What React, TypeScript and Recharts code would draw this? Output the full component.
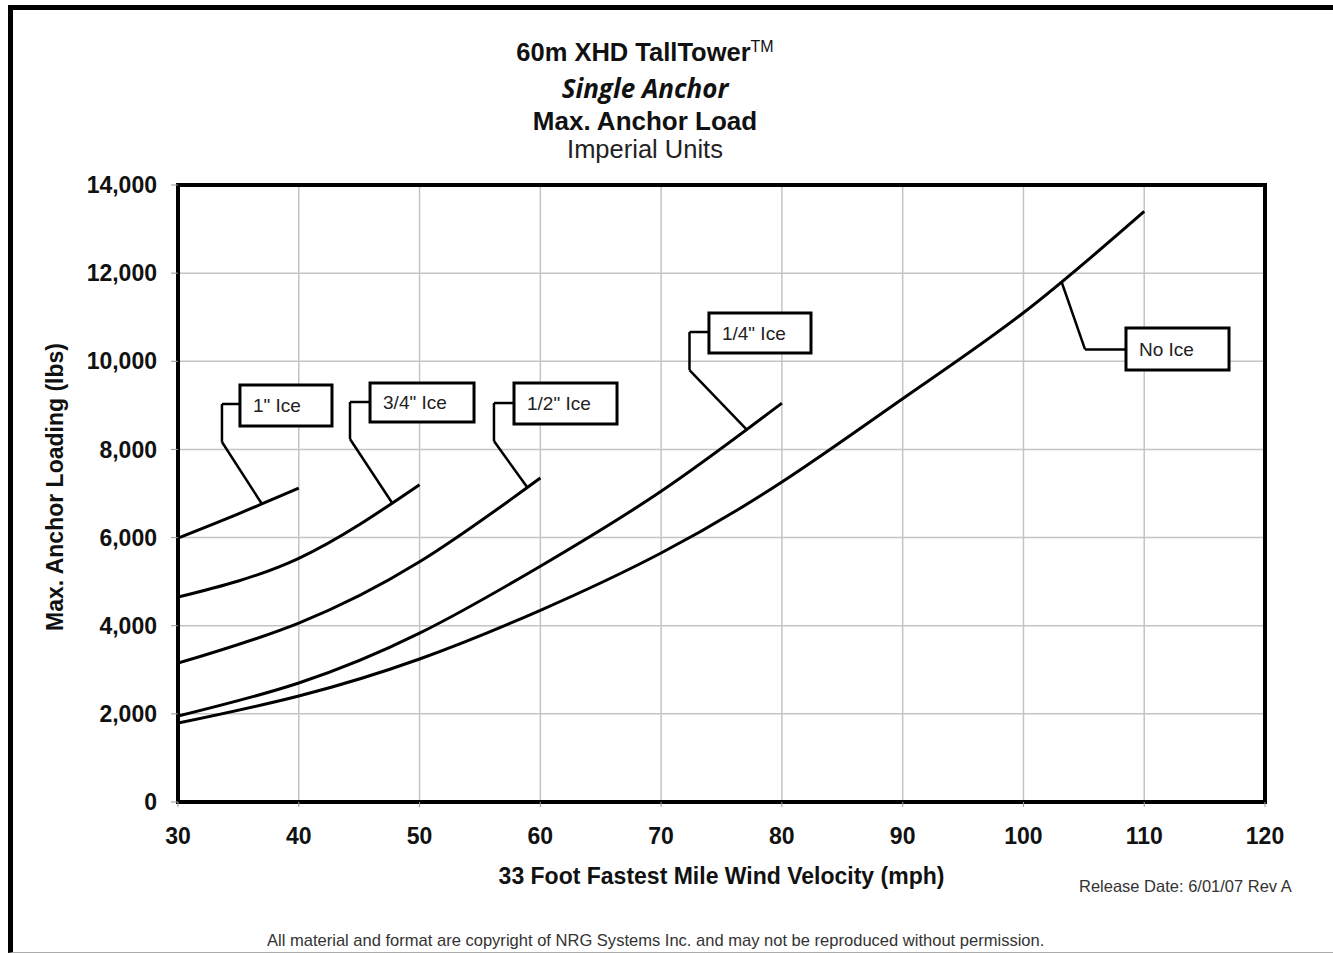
import React from "react";
import {
  LineChart,
  Line,
  XAxis,
  YAxis,
  CartesianGrid,
  ReferenceArea,
  ReferenceLine,
} from "recharts";

const noIceSpeeds = [30, 40, 50, 60, 70, 80, 90, 100, 110];
const quarterIceSpeeds = [30, 40, 50, 60, 70, 80];
const halfIceSpeeds = [30, 40, 50, 60];
const threeQuarterIceSpeeds = [30, 40, 50];
const oneInchIceSpeeds = [30, 35, 40];

// max anchor load (lbs)
const noIceLoads = [1790, 2405, 3245, 4350, 5650, 7260, 9150, 11100, 13400];
const quarterIceLoads = [1950, 2700, 3830, 5350, 7050, 9050];
const halfIceLoads = [3150, 4060, 5450, 7350];
const threeQuarterIceLoads = [4650, 5530, 7200];
const oneInchIceLoads = [5990, 6540, 7120];

const xTicks = [30, 40, 50, 60, 70, 80, 90, 100, 110, 120];
const yTicks = [0, 2000, 4000, 6000, 8000, 10000, 12000, 14000];

// callouts, in chart units (mph, lbs)
const calloutLabels = ['1" Ice', '3/4" Ice', '1/2" Ice', '1/4" Ice', "No Ice"];
const calloutBoxes = [
  [35.13, 42.75, 8531, 9462],
  [45.9, 54.51, 8622, 9507],
  [57.82, 66.35, 8577, 9507],
  [73.96, 82.41, 10188, 11095],
  [108.49, 117.02, 9802, 10755],
];
const calloutLeaders = [
  [[35.13, 9031], [33.64, 9031], [33.64, 8168], [36.95, 6762]],
  [[45.9, 9076], [44.24, 9076], [44.24, 8236], [47.72, 6790]],
  [[57.82, 9053], [56.16, 9053], [56.16, 8191], [58.9, 7147]],
  [[73.96, 10664], [72.35, 10664], [72.35, 9802], [77.07, 8457]],
  [[108.49, 10270], [105.1, 10270], [103.19, 11776]],
];

const toRows = (speeds: number[], loads: number[]) =>
  loads.map((load, i) => ({ speed: speeds[i], load }));

const series = [
  { name: "noIce", rows: toRows(noIceSpeeds, noIceLoads) },
  { name: "quarterIce", rows: toRows(quarterIceSpeeds, quarterIceLoads) },
  { name: "halfIce", rows: toRows(halfIceSpeeds, halfIceLoads) },
  { name: "threeQuarterIce", rows: toRows(threeQuarterIceSpeeds, threeQuarterIceLoads) },
  { name: "oneInchIce", rows: toRows(oneInchIceSpeeds, oneInchIceLoads) },
];

const sans = '"Liberation Sans", Arial, sans-serif';
const tickStyle = { fontSize: 23, fontWeight: 700, fill: "#111", fontFamily: sans };

const abs = (extra: React.CSSProperties): React.CSSProperties => ({
  position: "absolute",
  whiteSpace: "nowrap",
  lineHeight: 1,
  color: "#111",
  ...extra,
});

export default function App() {
  return (
    <div
      style={{
        position: "absolute",
        left: 0,
        top: 0,
        width: 1333,
        height: 953,
        overflow: "hidden",
        background: "#fff",
        fontFamily: sans,
      }}
    >
      <div
        style={{
          position: "absolute",
          left: 8,
          top: 5,
          width: 1325,
          height: 948,
          boxSizing: "border-box",
          borderLeft: "5px solid #000",
          borderTop: "5px solid #000",
          borderBottom: "1px solid #aaa",
        }}
      />

      <LineChart
        width={1333}
        height={953}
        margin={{ top: 185, right: 68, bottom: 91, left: 78 }}
        style={{ position: "absolute", left: 0, top: 0 }}
      >
        <CartesianGrid stroke="#c4c4c4" strokeWidth={1.5} />
        <XAxis
          dataKey="speed"
          type="number"
          domain={[30, 120]}
          ticks={xTicks}
          height={60}
          axisLine={false}
          tickSize={5}
          tickMargin={21}
          tickLine={{ stroke: "#999" }}
          tick={tickStyle}
          allowDataOverflow
        />
        <YAxis
          type="number"
          domain={[0, 14000]}
          ticks={yTicks}
          width={100}
          axisLine={false}
          tickSize={7}
          tickMargin={14}
          tickLine={{ stroke: "#999" }}
          tick={tickStyle}
          tickFormatter={(v: number) => v.toLocaleString("en-US")}
          allowDataOverflow
        />
        <ReferenceArea
          x1={30}
          x2={120}
          y1={0}
          y2={14000}
          fill="none"
          stroke="#000"
          strokeWidth={4}
        />
        {series.map((s) => (
          <Line
            key={s.name}
            data={s.rows}
            dataKey="load"
            type="natural"
            stroke="#000"
            strokeWidth={3}
            dot={false}
            activeDot={false}
            isAnimationActive={false}
          />
        ))}
        {calloutLeaders.map((pts, i) =>
          pts.slice(1).map((p, j) => (
            <ReferenceLine
              key={`lead-${i}-${j}`}
              segment={[
                { x: pts[j][0], y: pts[j][1] },
                { x: p[0], y: p[1] },
              ]}
              stroke="#000"
              strokeWidth={2.5}
            />
          ))
        )}
        {calloutBoxes.map(([x1, x2, y1, y2], i) => (
          <ReferenceArea
            key={`box-${i}`}
            x1={x1}
            x2={x2}
            y1={y1}
            y2={y2}
            fill="#fff"
            fillOpacity={1}
            stroke="#000"
            strokeWidth={3}
            label={{
              value: calloutLabels[i],
              position: "insideLeft",
              offset: 13,
              fontSize: 19,
              fill: "#222",
              fontFamily: sans,
            }}
          />
        ))}
      </LineChart>

      <div style={abs({ left: 0, width: 1290, top: 39, textAlign: "center", fontSize: 25.5, fontWeight: 700 })}>
        60m XHD TallTower<sup style={{ fontSize: 16, fontWeight: 400, verticalAlign: "9px" }}>TM</sup>
      </div>
      <div
        style={abs({
          left: 0,
          width: 1290,
          top: 75,
          textAlign: "center",
          fontSize: 26,
          fontWeight: 700,
          fontStyle: "italic",
          fontFamily: '"Open Sans", sans-serif',
        })}
      >
        Single Anchor
      </div>
      <div style={abs({ left: 0, width: 1290, top: 108, textAlign: "center", fontSize: 26, fontWeight: 700 })}>
        Max. Anchor Load
      </div>
      <div style={abs({ left: 0, width: 1290, top: 137, textAlign: "center", fontSize: 25.5, color: "#222" })}>
        Imperial Units
      </div>

      <div
        style={abs({
          left: 55,
          top: 487,
          fontSize: 23,
          fontWeight: 700,
          transform: "translate(-50%, -50%) rotate(-90deg)",
        })}
      >
        Max. Anchor Loading (lbs)
      </div>
      <div style={abs({ left: 0, width: 1443, top: 865, textAlign: "center", fontSize: 23, fontWeight: 700 })}>
        33 Foot Fastest Mile Wind Velocity (mph)
      </div>

      <div style={abs({ left: 1079, top: 878, fontSize: 16.5, color: "#333" })}>
        Release Date: 6/01/07 Rev A
      </div>
      <div style={abs({ left: 267, top: 933, fontSize: 16.55, color: "#333" })}>
        All material and format are copyright of NRG Systems Inc. and may not be reproduced without permission.
      </div>
    </div>
  );
}
